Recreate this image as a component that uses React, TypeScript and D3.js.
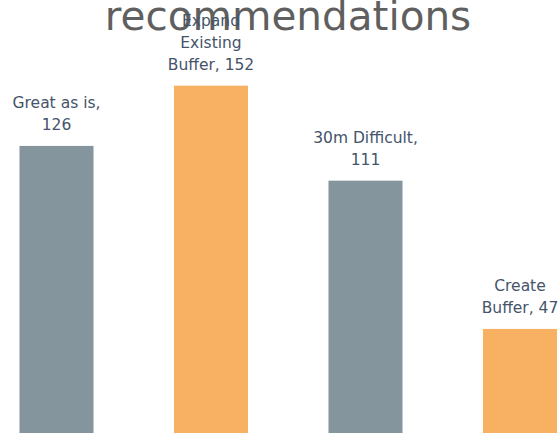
import React from "react";
import * as d3 from "d3";

// chart data
const categories = ["Great as is", "Expand Existing Buffer", "30m Difficult", "Create Buffer"];
const values = [126, 152, 111, 47];
// how each category label wraps in the data label
const labelLines = [["Great as is,"], ["Expand", "Existing", "Buffer,"], ["30m Difficult,"], ["Create", "Buffer,"]];
const barColors = ["#85959d", "#f8b062", "#85959d", "#f8b062"];
const title = "recommendations";

const width = 560;
const height = 433;

const App: React.FC = () => {
  // band range reaches past the picture edges, the chart is cropped
  const xScale = d3
    .scaleBand<string>()
    .domain(categories)
    .range([-20.75, 597.25])
    .paddingInner(0.521)
    .paddingOuter(0.2605);

  const yScale = d3
    .scaleLinear()
    .domain([0, d3.max(values) || 0])
    .range([437.8, 85.7]);

  const lineHeight = 22;
  const labelGap = 15.5;

  return (
    <svg
      width={width}
      height={height}
      style={{ position: "absolute", left: 0, top: 0, background: "#ffffff" }}
    >
      <rect x={0} y={0} width={width} height={height} fill="#ffffff" />
      <text
        x={288}
        y={30}
        textAnchor="middle"
        fontFamily="DejaVu Sans"
        fontSize={40.5}
        fill="#5f5f5f"
      >
        {title}
      </text>
      {categories.map((c, i) => {
        const x = xScale(c) || 0;
        const y = yScale(values[i]);
        return (
          <rect
            key={c}
            x={x}
            y={y}
            width={xScale.bandwidth()}
            height={yScale(0) - y}
            fill={barColors[i]}
          />
        );
      })}
      {categories.map((c, i) => {
        const cx = (xScale(c) || 0) + xScale.bandwidth() / 2;
        const lines = labelLines[i].slice();
        // value goes on the last line when it is a short one, else on its own line
        const last = lines[lines.length - 1];
        if (last.length < 10) lines[lines.length - 1] = `${last} ${values[i]}`;
        else lines.push(String(values[i]));
        const baseY = yScale(values[i]) - labelGap;
        return (
          <text
            key={c}
            textAnchor="middle"
            fontFamily="DejaVu Sans"
            fontSize={15.5}
            fill="#44546a"
          >
            {lines.map((l, j) => (
              <tspan key={j} x={cx} y={baseY - (lines.length - 1 - j) * lineHeight}>
                {l}
              </tspan>
            ))}
          </text>
        );
      })}
    </svg>
  );
};

export default App;
